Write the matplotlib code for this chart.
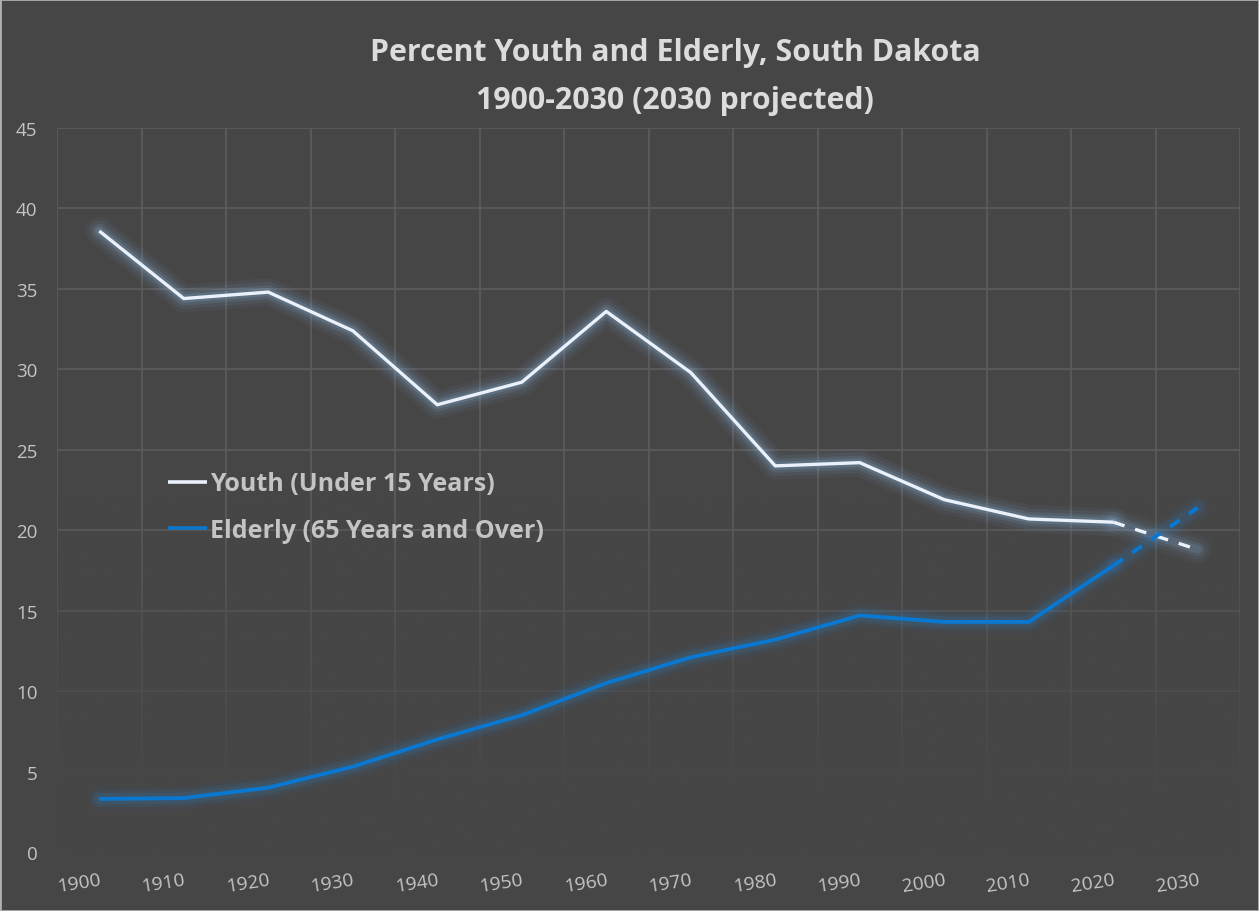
import numpy as np
import matplotlib
matplotlib.use("Agg")
import matplotlib.pyplot as plt
from matplotlib.patches import Rectangle

# Census decades (2030 is a projection)
years = ["1900", "1910", "1920", "1930", "1940", "1950", "1960",
         "1970", "1980", "1990", "2000", "2010", "2020", "2030"]
youth = [38.6, 34.4, 34.8, 32.4, 27.8, 29.2, 33.6,
         29.8, 24.0, 24.2, 21.9, 20.7, 20.5, 18.8]
elderly = [3.3, 3.35, 4.0, 5.3, 7.0, 8.5, 10.5,
           12.1, 13.2, 14.7, 14.3, 14.3, 17.8, 21.4]
series_names = ["Youth (Under 15 Years)", "Elderly (65 Years and Over)"]
n_observed = 13  # values after this index are projected

BG = "#464646"
GRID = "#5c5c5c"
TEXT = "#c4c4c4"
TITLE = "#dcdcdc"
WHITE = "#eaf1fa"
BLUE = "#0a78d0"

plt.rcParams["font.family"] = ["Open Sans", "DejaVu Sans"]
plt.rcParams["lines.scale_dashes"] = False

fig = plt.figure(figsize=(12.59, 9.12), dpi=100, facecolor=BG)
ax = fig.add_axes([57 / 1259, 1 - 853 / 912, (1240 - 57) / 1259, (853 - 129) / 912])
ax.set_facecolor(BG)

x = np.arange(len(years))
ax.set_xlim(-0.5, len(years) - 0.5)
ax.set_ylim(0, 45)

# Gridlines, faded towards the bottom by a background-coloured overlay
for v in range(5, 46, 5):
    ax.axhline(v, color=GRID, lw=1.2, zorder=1)
for b in np.arange(-0.5, len(years) + 0.5, 1.0):
    ax.axvline(b, color=GRID, lw=1.2, zorder=1)

ys = np.linspace(45, 0, 400)
alpha = np.clip((22 - ys) / 19.0, 0, 1)
bg_rgb = matplotlib.colors.to_rgb(BG)
fade = np.zeros((400, 2, 4))
fade[..., 0], fade[..., 1], fade[..., 2] = bg_rgb
fade[..., 3] = alpha[:, None]
ax.imshow(fade, extent=(-0.5, len(years) - 0.5, 0, 45), aspect="auto",
          zorder=1.5, interpolation="bilinear")

WHITE_GLOW = [(20, 0.05), (15, 0.08), (10, 0.12), (6, 0.18)]
BLUE_GLOW = [(17, 0.045), (12, 0.08), (8, 0.12)]


def glow_line(xs, ys, color, glow_color, layers, lw, dashed=False, label=None):
    # soft halo drawn as stacked translucent strokes under the line
    for w, a in layers:
        ax.plot(xs, ys, color=glow_color, lw=w, alpha=a * (0.8 if dashed else 1),
                zorder=2, solid_joinstyle="round", solid_capstyle="round")
    style = dict(solid_joinstyle="round", solid_capstyle="butt",
                 dash_capstyle="butt")
    if dashed:
        style["dashes"] = (8.5, 8.0)
    ax.plot(xs, ys, color=color, lw=lw, zorder=3, label=label, **style)


glow_line(x[:n_observed], youth[:n_observed], WHITE, "#8ab8e6", WHITE_GLOW, 2.4,
          label=series_names[0])
glow_line(x[n_observed - 1:], youth[n_observed - 1:], WHITE, "#8ab8e6", WHITE_GLOW,
          2.4, dashed=True)
glow_line(x[:n_observed], elderly[:n_observed], BLUE, "#2a88e0", BLUE_GLOW, 2.8,
          label=series_names[1])
glow_line(x[n_observed - 1:], elderly[n_observed - 1:], BLUE, "#2a88e0", BLUE_GLOW,
          2.8, dashed=True)

for s in ax.spines.values():
    s.set_visible(False)

ax.set_yticks(range(0, 46, 5))
ax.tick_params(axis="y", length=0, pad=14, labelsize=13.5, labelcolor=TEXT)
ax.set_xticks(x)
ax.set_xticklabels(years, rotation=9, ha="right", rotation_mode="anchor")
ax.tick_params(axis="x", length=0, pad=13, labelsize=13.8, labelcolor=TEXT)

leg = ax.legend(loc="center left", bbox_to_anchor=(168 / 1259, 1 - 508 / 912),
                bbox_transform=fig.transFigure, frameon=False, borderpad=0,
                borderaxespad=0, handlelength=1.55, handletextpad=0.12,
                labelspacing=0.85, prop={"size": 18, "weight": "bold"})
for t in leg.get_texts():
    t.set_color(TEXT)
for h in leg.get_lines():
    h.set_linewidth(2.6)

fig.text(675 / 1259, 1 - 53 / 912, "Percent Youth and Elderly, South Dakota",
         ha="center", va="center", fontsize=21.8, fontweight="bold", color=TITLE)
fig.text(675 / 1259, 1 - 101 / 912, "1900-2030 (2030 projected)",
         ha="center", va="center", fontsize=21.8, fontweight="bold", color=TITLE)

fig.patches.append(Rectangle((0, 0), 1, 1, transform=fig.transFigure,
                             fill=False, edgecolor="#b0b0b0", lw=2))

fig.savefig("out.png", dpi=100, facecolor=BG)
